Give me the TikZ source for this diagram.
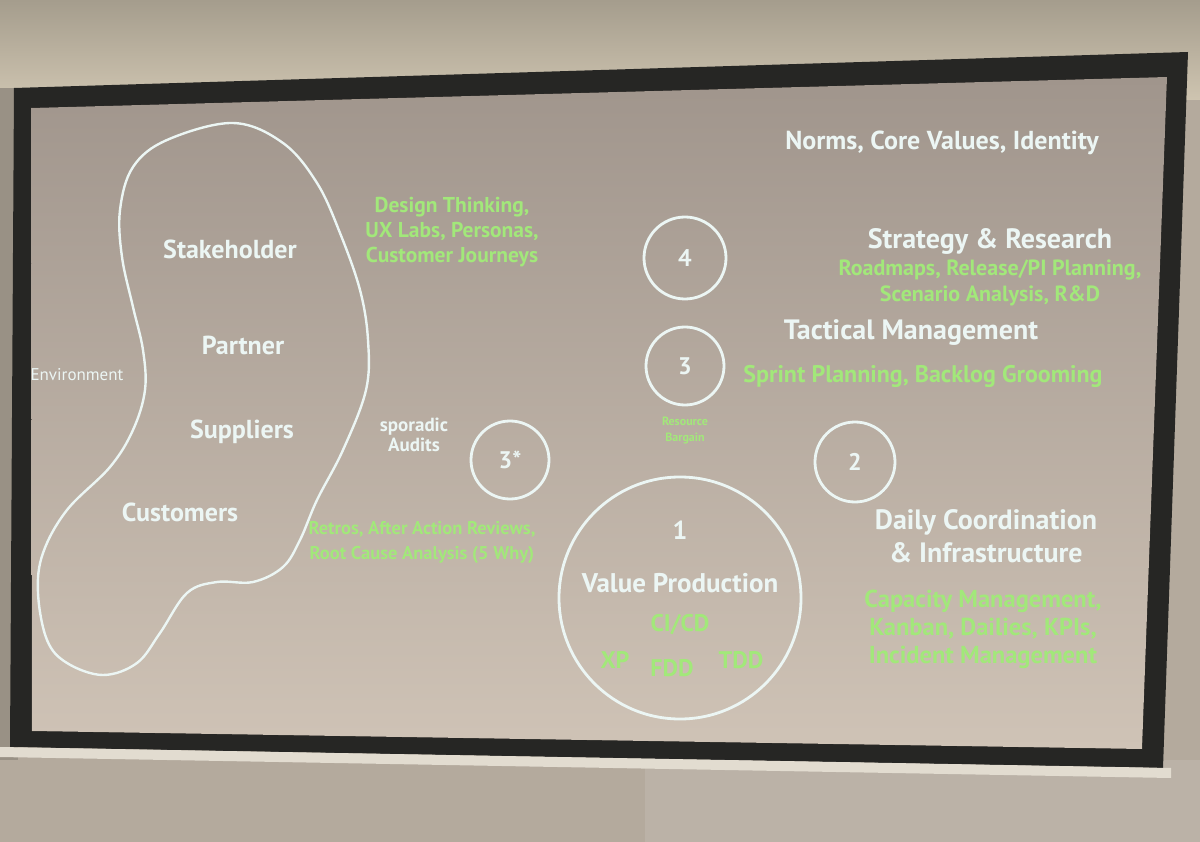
\documentclass[tikz,border=0pt]{standalone}
\usepackage{fontspec}
\setmainfont{PT Sans}
\usetikzlibrary{positioning}
\definecolor{chalk}{RGB}{236,246,244}
\definecolor{leaf}{RGB}{162,232,122}
\definecolor{slidetop}{RGB}{160,149,140}
\definecolor{slidebot}{RGB}{207,195,182}
\definecolor{casing}{RGB}{206,196,176}
\definecolor{wall}{RGB}{180,170,157}
\definecolor{frame}{RGB}{38,38,36}

\begin{document}
\begin{tikzpicture}[x=1pt,y=-1pt,
      every node/.style = {text=chalk, align=center, inner sep=0pt},
      lbl/.style = {font=\bfseries\fontsize{26}{33}\selectfont},
      head/.style = {font=\bfseries\fontsize{28}{33}\selectfont},
      note/.style = {text=leaf, font=\bfseries\fontsize{20}{25}\selectfont},
      ring/.style = {circle, draw=chalk, line width=2.8pt,
        font=\bfseries\fontsize{24}{26}\selectfont}]
  \useasboundingbox (0,0) rectangle (1200,842);
  \fill[wall] (0,0) rectangle (1200,842);
  \fill[top color=casing!80!black, bottom color=casing] (0,0) rectangle (1200,100);
  \fill[wall!90!white] (645,760) rectangle (1200,842);
  \fill[wall!85!black] (0,88) rectangle (18,760);
  \fill[frame] (14,88) -- (1188,52) -- (1163,768) -- (10,747) -- cycle;
  \fill[casing!60!white] (0,747) -- (1171,768) -- (1171,778) -- (0,757) -- cycle;
  \fill[top color=slidetop, bottom color=slidebot]
    (31,108) -- (1167,77) -- (1142,749) -- (32,731) -- cycle;

  \draw[chalk, line width=2.4pt] plot[smooth cycle, tension=0.6] coordinates {
    (233,123) (283,143) (317,183) (340,233) (360,290) (368,340) (366,390)
    (343,450) (317,500) (300,540) (283,567) (253,582) (217,582) (187,593)
    (160,633) (137,663) (103,675) (67,663) (47,640) (38,593) (43,553)
    (67,510) (110,467) (133,430) (145,390) (143,350) (133,307) (122,257)
    (120,210) (133,167) (167,140)};

  \node[font=\fontsize{17}{18}\selectfont] (env) at (77,375) {Environment};
  \node[lbl] (stake) at (230,249) {Stakeholder};
  \node[lbl] (partner) at (243,345) {Partner};
  \node[lbl] (supp) at (242,432) {Suppliers};
  \node[lbl] (cust) at (180,512) {Customers};

  \node[note, font=\bfseries\fontsize{21.5}{25}\selectfont] (design) at (452,232) {Design Thinking,\\UX Labs, Personas,\\Customer Journeys};
  \node[lbl] (norms) at (942,143) {Norms, Core Values, Identity};

  \node[ring, minimum size=82pt] (c4) at (685,258) {4};
  \node[head] (strat) at (990,241) {Strategy \& Research};
  \node[note, font=\bfseries\fontsize{22}{26}\selectfont] (roads) at (990,283) {Roadmaps, Release/PI Planning,\\Scenario Analysis, R\&D};

  \node[ring, minimum size=78pt] (c3) at (685,366) {3};
  \node[head] (tact) at (911,333) {Tactical Management};
  \node[note, font=\bfseries\fontsize{24}{26}\selectfont] (sprint) at (923,376) {Sprint Planning, Backlog Grooming};
  \node[note, font=\bfseries\fontsize{12}{16}\selectfont] (bargain) at (685,431) {Resource\\Bargain};

  \node[ring, minimum size=80pt] (c2) at (855,462) {2};
  \node[head] (daily) at (986,536) {Daily Coordination\\\& Infrastructure};
  \node[note, font=\bfseries\fontsize{24.5}{28}\selectfont] (capa) at (983,629) {Capacity Management,\\Kanban, Dailies, KPIs,\\Incident Management};

  \node[ring, minimum size=78pt] (c3s) at (510,460) {3*};
  \node[lbl, font=\bfseries\fontsize{19}{20}\selectfont] (audit) at (414,435) {sporadic\\Audits};
  \node[note, font=\bfseries\fontsize{18.5}{25}\selectfont] (retro) at (422,542) {Retros, After Action Reviews,\\Root Cause Analysis (5 Why)};

  \node[ring, minimum size=242pt] (c1) at (680,598) {};
  \node[lbl] (one) at (680,530) {1};
  \node[head, font=\bfseries\fontsize{27}{30}\selectfont] (value) at (680,583) {Value Production};
  \node[note, font=\bfseries\fontsize{24}{26}\selectfont] (cicd) at (680,625) {CI/CD};
  \node[note, font=\bfseries\fontsize{24}{26}\selectfont] (xp) at (615,660) {XP};
  \node[note, font=\bfseries\fontsize{24}{26}\selectfont] (fdd) at (672,668) {FDD};
  \node[note, font=\bfseries\fontsize{24}{26}\selectfont] (tdd) at (741,660) {TDD};
\end{tikzpicture}
\end{document}
